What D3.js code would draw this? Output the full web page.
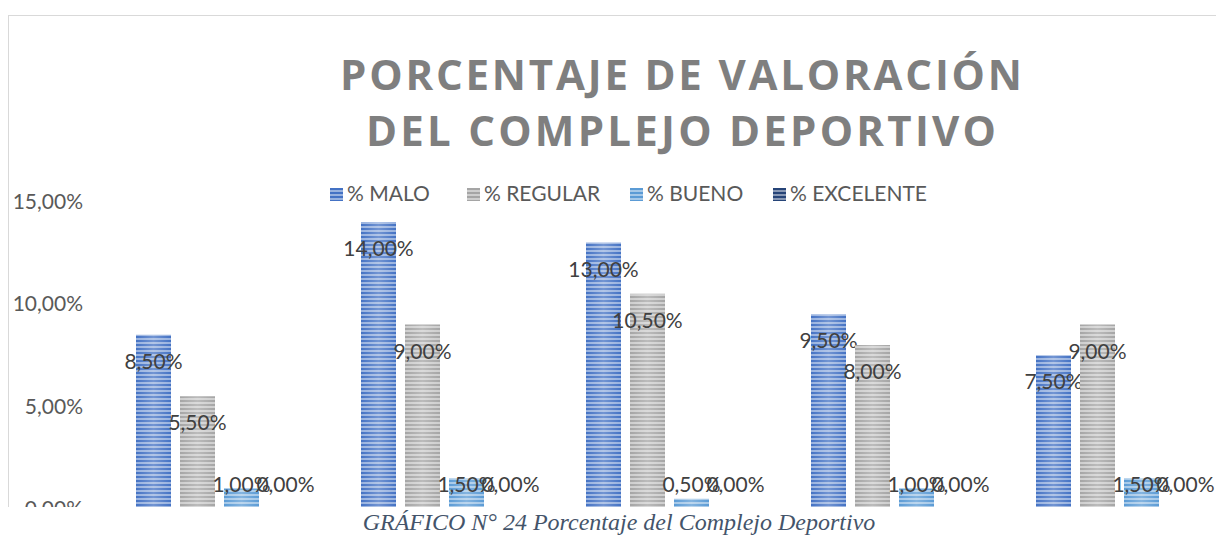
<!DOCTYPE html>
<html>
<head>
<meta charset="utf-8">
<script src="https://cdn.jsdelivr.net/npm/d3@7"></script>
<style>
  html, body { margin: 0; padding: 0; background: #fff; }
  svg { display: block; }
</style>
</head>
<body>
<svg id="chart" width="1216" height="549"></svg>
<script>
// Categories (x-axis groups) and the four rating series, in percent
const categories = ["Ítem 1", "Ítem 2", "Ítem 3", "Ítem 4", "Ítem 5"];
const seriesNames = ["% MALO", "% REGULAR", "% BUENO", "% EXCELENTE"];
const malo      = [8.5, 14.0, 13.0, 9.5, 7.5];
const regular   = [5.5, 9.0, 10.5, 8.0, 9.0];
const bueno     = [1.0, 1.5, 0.5, 1.0, 1.5];
const excelente = [0.0, 0.0, 0.0, 0.0, 0.0];
const yTicks = [0, 5, 10, 15];

const seriesValues = [malo, regular, bueno, excelente];
const colors = ["#4472C4", "#A5A5A5", "#5B9BD5", "#264478"];

const fmt = v => d3.format(".2f")(v).replace(".", ",") + "%";

const svg = d3.select("#chart");
const defs = svg.append("defs");

// Horizontal-line fills for each series
colors.forEach((c, i) => {
  const p = defs.append("pattern")
    .attr("id", "stripe" + i)
    .attr("patternUnits", "userSpaceOnUse")
    .attr("width", 8).attr("height", 4);
  p.append("rect").attr("width", 8).attr("height", 4).attr("fill", c);
  p.append("rect").attr("y", 2).attr("width", 8).attr("height", 2)
    .attr("fill", "#fff").attr("opacity", 0.45);
});
// soft sheen across the bar width
const sheen = defs.append("linearGradient").attr("id", "sheen")
  .attr("x1", "0").attr("x2", "1").attr("y1", "0").attr("y2", "0");
sheen.append("stop").attr("offset", "0%").attr("stop-color", "#fff").attr("stop-opacity", 0);
sheen.append("stop").attr("offset", "50%").attr("stop-color", "#fff").attr("stop-opacity", 0.25);
sheen.append("stop").attr("offset", "100%").attr("stop-color", "#fff").attr("stop-opacity", 0);

defs.append("clipPath").attr("id", "frameClip")
  .append("rect").attr("x", 0).attr("y", 0).attr("width", 1216).attr("height", 507);

const frame = svg.append("g").attr("clip-path", "url(#frameClip)");

// chart border
frame.append("rect")
  .attr("x", 8.5).attr("y", 15.5)
  .attr("width", 1300).attr("height", 600)
  .attr("fill", "#fff").attr("stroke", "#d9d9d9").attr("stroke-width", 1);

// Title
const title = frame.append("g")
  .attr("font-family", "'Open Sans', sans-serif")
  .attr("font-weight", "bold")
  .attr("font-size", 42)
  .attr("fill", "#7f7f7f")
  .attr("text-anchor", "middle");
title.append("text").attr("x", 681).attr("y", 90)
  .attr("textLength", 682).attr("lengthAdjust", "spacing")
  .text("PORCENTAJE DE VALORACIÓN");
title.append("text").attr("x", 681).attr("y", 146)
  .attr("textLength", 630).attr("lengthAdjust", "spacing")
  .text("DEL COMPLEJO DEPORTIVO");

// Scales
const y = d3.scaleLinear().domain([0, 15]).range([509, 201.5]);
const x0 = d3.scaleBand().domain(categories).range([111, 1236]).padding(0);
const x1 = d3.scaleBand().domain(seriesNames).range([25, 192])
  .paddingInner(9 / 44).paddingOuter(0);

// Y axis (labels only)
const yAxis = d3.axisLeft(y).tickValues(yTicks).tickFormat(fmt).tickSize(0).tickPadding(0);
const yG = frame.append("g").attr("transform", "translate(83,0)").call(yAxis);
yG.select(".domain").remove();
yG.selectAll("text")
  .attr("font-family", "Lato, sans-serif")
  .attr("font-size", 21)
  .attr("fill", "#595959");

// Legend
const legendX = [330, 467, 630, 773];
const legend = frame.append("g");
seriesNames.forEach((name, i) => {
  const g = legend.append("g").attr("transform", `translate(${legendX[i]},188)`);
  g.append("rect").attr("width", 13).attr("height", 13).attr("fill", `url(#stripe${i})`);
  g.append("text").attr("x", 17).attr("y", 13)
    .attr("font-family", "Lato, sans-serif").attr("font-size", 21)
    .attr("fill", "#595959").text(name);
});

// Bars
const groups = frame.append("g").selectAll("g")
  .data(categories)
  .join("g")
  .attr("transform", d => `translate(${x0(d)},0)`);

const cells = groups.selectAll("g.bar")
  .data((d, ci) => seriesNames.map((s, si) => ({ s, si, v: seriesValues[si][ci] })))
  .join("g").attr("class", "bar");

cells.append("rect")
  .attr("x", d => x1(d.s))
  .attr("y", d => y(d.v))
  .attr("width", x1.bandwidth())
  .attr("height", d => y(0) - y(d.v))
  .attr("fill", d => `url(#stripe${d.si})`);
cells.append("rect")
  .attr("x", d => x1(d.s))
  .attr("y", d => y(d.v))
  .attr("width", x1.bandwidth())
  .attr("height", d => y(0) - y(d.v))
  .attr("fill", "url(#sheen)");

// Value labels at the inside end of each bar
cells.append("text")
  .attr("x", d => x1(d.s) + x1.bandwidth() / 2)
  .attr("y", d => Math.min(y(d.v) + 27, y(0) - 24) + 7)
  .attr("text-anchor", "middle")
  .attr("font-family", "Lato, sans-serif")
  .attr("font-size", 21)
  .attr("fill", "#404040")
  .text(d => fmt(d.v));

// Caption below the chart
svg.append("text")
  .attr("x", 619).attr("y", 530)
  .attr("text-anchor", "middle")
  .attr("font-family", "'Liberation Serif', 'Times New Roman', serif")
  .attr("font-style", "italic")
  .attr("font-size", 24)
  .attr("fill", "#44546A")
  .text("GRÁFICO N° 24 Porcentaje del Complejo Deportivo");
</script>
</body>
</html>
